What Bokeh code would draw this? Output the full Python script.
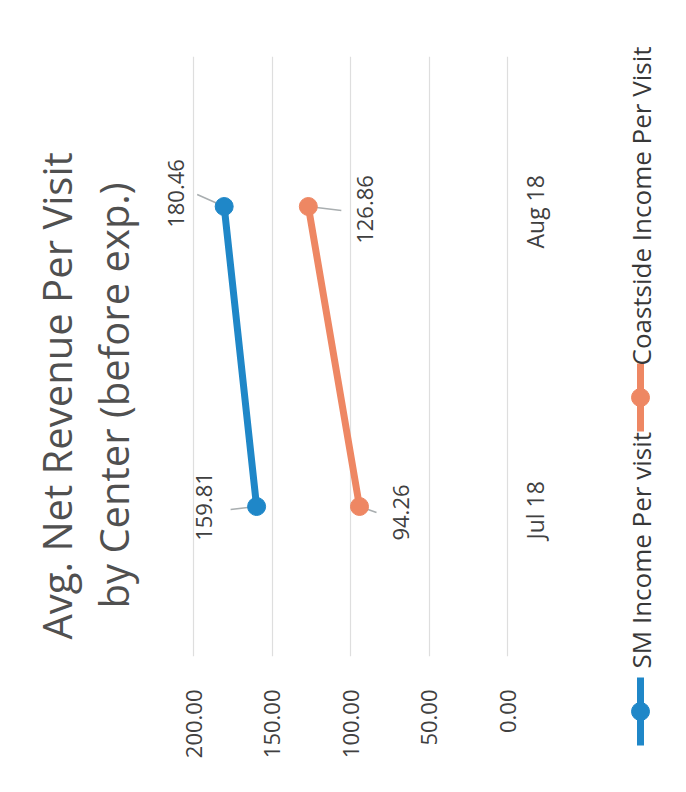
import math
from bokeh.plotting import figure
from bokeh.models import (ColumnDataSource, Range1d, FixedTicker,
                          NumeralTickFormatter, Title)
from bokeh.core.properties import value
from bokeh.embed import file_html
from bokeh.resources import INLINE

# ---------------- data ----------------
months = ["Jul 18", "Aug 18"]
sm_income = [159.81, 180.46]
coastside_income = [94.26, 126.86]
value_ticks = [0, 50, 100, 150, 200]
series_names = ["SM Income Per visit", "Coastside Income Per Visit"]
title_lines = ["Avg. Net Revenue Per Visit", "by Center (before exp.)"]

# ---------------- layout (the page is drawn rotated 90 degrees) ----------------
W, H = 686, 792
FL, FR, FT, FB = 140, 525, 56, 656           # frame edges (px)
PX0, PX200 = 507, 193                        # px of value 0 and of value 200
SCALE = (PX0 - PX200) / 200.0
NF = len(months)
cat_pos = [i + 0.5 for i in range(NF)]       # category centres on the month axis

def vx(px):
    return (PX0 - px) / SCALE

BLUE = "#1f87c8"
ORANGE = "#ee8763"
TXT = "#404040"
FONT = "Open Sans"

p = figure(width=W, height=H, output_backend="svg", toolbar_location=None,
           x_range=Range1d(vx(FL), vx(FR)),
           y_range=Range1d(0, NF),
           y_axis_location="right",
           min_border_left=FL, min_border_right=W - FR,
           min_border_top=FT, min_border_bottom=H - FB,
           background_fill_color="white", border_fill_color="white")
p.outline_line_color = None
p.styles = {"outline": "1px solid #d6d6d6", "outline-offset": "-6px"}

# value axis (drawn below, labels rotated)
xa = p.xaxis[0]
xa.ticker = FixedTicker(ticks=value_ticks)
xa.formatter = NumeralTickFormatter(format="0.00")
xa.major_label_orientation = math.pi / 2
xa.axis_line_color = None
xa.major_tick_line_color = None
xa.minor_tick_line_color = None
xa.major_tick_in = 0
xa.major_tick_out = 0
xa.major_label_standoff = 33
xa.major_label_text_font = FONT
xa.major_label_text_font_size = "22px"
xa.major_label_text_color = TXT

# month axis on the right; rotated labels start at their tick, so each tick sits
# half a label-length below its category centre
cat_ticks = [0.39, 1.36]
ya = p.yaxis[0]
ya.ticker = FixedTicker(ticks=cat_ticks)
ya.major_label_overrides = dict(zip(cat_ticks, months))
ya.major_label_orientation = math.pi / 2
ya.axis_line_color = None
ya.major_tick_line_color = None
ya.minor_tick_line_color = None
ya.major_tick_in = 0
ya.major_tick_out = 0
ya.major_label_standoff = 9
ya.major_label_text_font = FONT
ya.major_label_text_font_size = "23px"
ya.major_label_text_color = TXT

p.xgrid.grid_line_color = "#dedede"
p.xgrid.grid_line_width = 1.2
p.ygrid.grid_line_color = None

src = ColumnDataSource(dict(
    pos=cat_pos,
    sm=sm_income,
    co=coastside_income,
    sm_lbl=[f"{v:.2f}" for v in sm_income],
    co_lbl=[f"{v:.2f}" for v in coastside_income],
    sm_dx=[-53, -48], sm_dy=[0, -13],
    co_dx=[41, 57], co_dy=[6, 3],
))

# leader lines (small connectors from point to label)
sm_lead = [(-26, 3), (-27, -12)]
co_lead = [(17, 6), (33, 4)]
PXU = (FB - FT) / NF
lead = ColumnDataSource(dict(
    x0=list(sm_income) + list(coastside_income),
    y0=cat_pos * 2,
    x1=[v - dx / SCALE for v, (dx, dy) in zip(sm_income, sm_lead)] +
       [v - dx / SCALE for v, (dx, dy) in zip(coastside_income, co_lead)],
    y1=[c - dy / PXU for c, (dx, dy) in zip(cat_pos, sm_lead)] +
       [c - dy / PXU for c, (dx, dy) in zip(cat_pos, co_lead)],
))
p.segment(x0="x0", y0="y0", x1="x1", y1="y1", source=lead,
          line_color="#a9aeb0", line_width=1.6)

p.line(x="sm", y="pos", source=src, line_color=BLUE, line_width=7, line_cap="round")
p.scatter(x="sm", y="pos", source=src, size=18, fill_color=BLUE, line_color=BLUE)
p.line(x="co", y="pos", source=src, line_color=ORANGE, line_width=7, line_cap="round")
p.scatter(x="co", y="pos", source=src, size=18, fill_color=ORANGE, line_color=ORANGE)

p.text(x="sm", y="pos", text="sm_lbl", source=src, angle=math.pi / 2,
       x_offset="sm_dx", y_offset="sm_dy", text_align="center", text_baseline="middle",
       text_font=value(FONT), text_font_size="22px", text_color=TXT)
p.text(x="co", y="pos", text="co_lbl", source=src, angle=math.pi / 2,
       x_offset="co_dx", y_offset="co_dy", text_align="center", text_baseline="middle",
       text_font=value(FONT), text_font_size="22px", text_color=TXT)

# title: two rotated lines in the left panel (second line nearest the frame)
for line, off in zip(reversed(title_lines), [48, 17]):
    p.add_layout(Title(text=line, align="left", offset=off, standoff=0,
                       text_font=FONT, text_font_size="40px", text_font_style="normal",
                       text_color="#505050"), "left")

# ---------------- legend strip (rotated), laid over the right margin ----------------
LX0 = 612
leg = figure(width=W - LX0, height=H, output_backend="svg", toolbar_location=None,
             x_range=Range1d(LX0, W), y_range=Range1d(H, 0),
             x_axis_type=None, y_axis_type=None,
             min_border=0, min_border_left=0, min_border_right=0,
             min_border_top=0, min_border_bottom=0,
             background_fill_alpha=0, border_fill_alpha=0)
leg.outline_line_color = None
leg.xgrid.visible = False
leg.ygrid.visible = False
leg.styles = {"position": "absolute", "left": f"{LX0}px", "top": "0px"}

LX = 640
marker_y = [711, 397]
text_start = [668, 365]
leg_src = ColumnDataSource(dict(
    name=series_names, color=[BLUE, ORANGE],
    x=[LX, LX], my=marker_y, y0=[m - 34 for m in marker_y], y1=[m + 34 for m in marker_y],
    ty=text_start,
))
leg.segment(x0="x", y0="y0", x1="x", y1="y1", source=leg_src, line_color="color", line_width=7)
leg.scatter(x="x", y="my", source=leg_src, size=18, fill_color="color", line_color="color")
leg.text(x="x", y="ty", text="name", source=leg_src, angle=math.pi / 2,
         text_align="left", text_baseline="middle",
         text_font=value(FONT), text_font_size="26px", text_color="#383838")

open("out.html", "w").write(file_html([p, leg], INLINE))
